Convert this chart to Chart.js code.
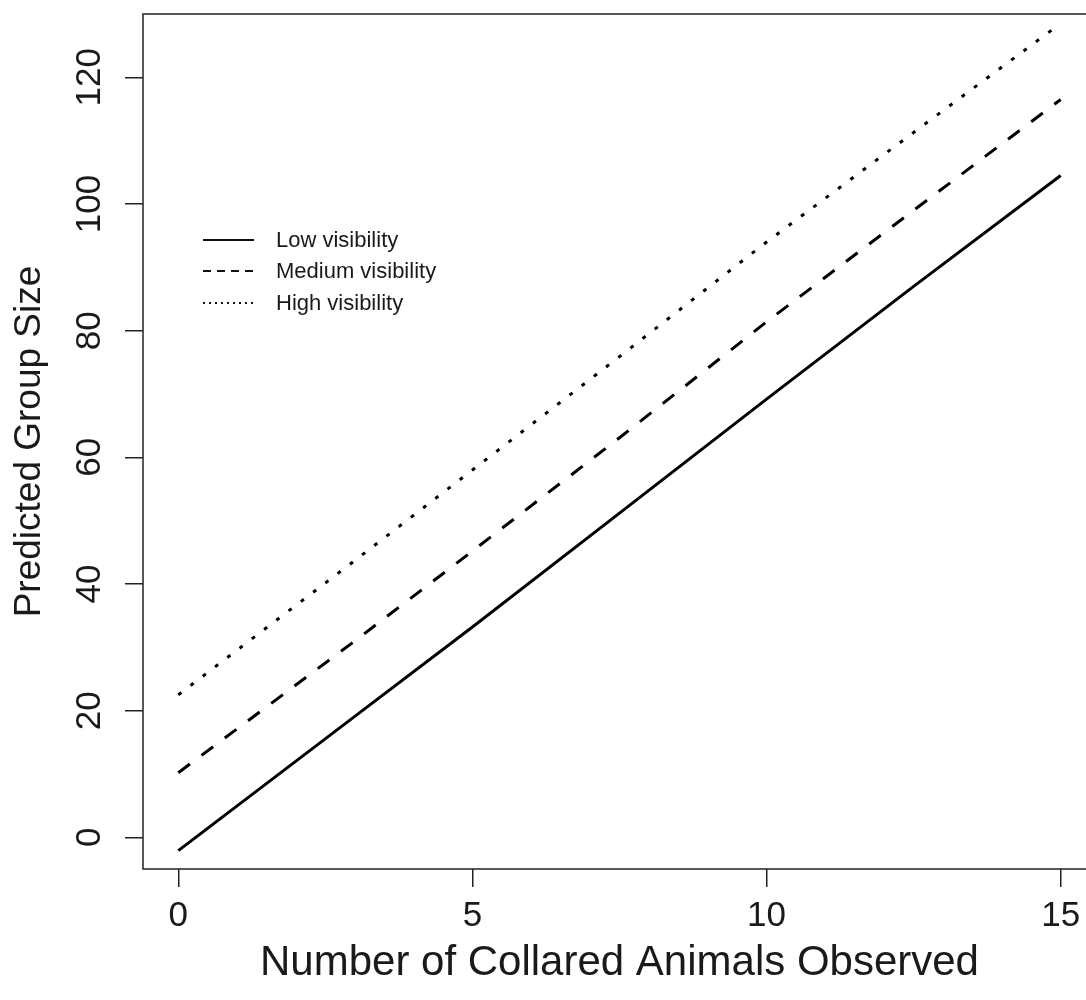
<!DOCTYPE html>
<html>
<head>
<meta charset="utf-8">
<script src="https://cdn.jsdelivr.net/npm/chart.js@4.4.1/dist/chart.umd.min.js"></script>
<style>
  html, body { margin: 0; padding: 0; background: #ffffff; overflow: hidden; }
  #wrap { width: 1100px; height: 1000px; position: relative; }
</style>
</head>
<body>
<div id="wrap"><canvas id="c" width="1100" height="1000"></canvas></div>
<script>
// ---- data ----
const xValues = [0, 3, 5, 7.5, 10, 12.5, 15];
const lowVisibility = [-2.1, 19.1, 33.2, 51.2, 69.2, 87.0, 104.5];
const mediumVisibility = [10.2, 31.0, 45.2, 63.1, 81.4, 99.0, 116.5];
const highVisibility = [22.5, 43.7, 58.0, 75.9, 94.0, 111.3, 128.5];
const seriesLabels = ['Low visibility', 'Medium visibility', 'High visibility'];
const xTickValues = [0, 5, 10, 15];
const yTickValues = [0, 20, 40, 60, 80, 100, 120];
const xTitle = 'Number of Collared Animals Observed';
const yTitle = 'Predicted Group Size';

const FONT = '"Liberation Sans", Arial, Helvetica, sans-serif';
const TEXT = '#1a1a1a';

function pts(ys) { return xValues.map((x, i) => ({ x: x, y: ys[i] })); }

const lineDashes = [[], [14.5, 14.5], [3.8, 11.6]];
const legendDashes = [[], [8, 6], [2, 4]];

const boxPlugin = {
  id: 'boxAndLabels',
  afterDraw(chart) {
    const ctx = chart.ctx;
    const a = chart.chartArea;
    ctx.save();
    // plot frame
    ctx.strokeStyle = '#222';
    ctx.lineWidth = 1.5;
    ctx.strokeRect(a.left, a.top, a.right - a.left, a.bottom - a.top);
    // rotated y tick labels (parallel to the axis)
    const ys = chart.scales.y;
    ctx.fillStyle = TEXT;
    ctx.font = '35px ' + FONT;
    ctx.textAlign = 'center';
    ctx.textBaseline = 'middle';
    ys.ticks.forEach(t => {
      const py = ys.getPixelForValue(t.value);
      ctx.save();
      ctx.translate(90, py);
      ctx.rotate(-Math.PI / 2);
      ctx.fillText(String(t.value), 0, 0);
      ctx.restore();
    });
    // legend
    const rows = [240, 271, 303];
    ctx.font = '22px ' + FONT;
    ctx.textAlign = 'left';
    ctx.textBaseline = 'middle';
    chart.data.datasets.forEach((ds, i) => {
      const y = rows[i];
      ctx.beginPath();
      ctx.setLineDash(legendDashes[i]);
      ctx.lineWidth = 2;
      ctx.strokeStyle = '#111';
      ctx.moveTo(203, y);
      ctx.lineTo(254, y);
      ctx.stroke();
      ctx.setLineDash([]);
      ctx.fillStyle = TEXT;
      ctx.fillText(ds.label, 276, y + 1);
    });
    ctx.restore();
  }
};

const datasets = [lowVisibility, mediumVisibility, highVisibility].map((ys, i) => ({
  label: seriesLabels[i],
  data: pts(ys),
  borderColor: '#000000',
  borderWidth: 3,
  borderDash: lineDashes[i],
  borderCapStyle: 'butt',
  pointRadius: 0,
  tension: 0,
  fill: false
}));

new Chart(document.getElementById('c'), {
  type: 'line',
  data: { datasets: datasets },
  options: {
    responsive: false,
    animation: false,
    layout: { padding: { top: 14, left: 0, right: 4, bottom: 0 } },
    plugins: { legend: { display: false }, tooltip: { enabled: false } },
    scales: {
      x: {
        type: 'linear',
        min: -0.6,
        max: 15.6,
        afterBuildTicks: s => { s.ticks = xTickValues.map(v => ({ value: v })); },
        afterFit: s => { s.height = 131; },
        border: { display: false },
        grid: { drawOnChartArea: false, drawTicks: true, tickLength: 18, color: '#222', lineWidth: 1.5 },
        ticks: { color: TEXT, font: { family: FONT, size: 35 }, padding: 8, maxRotation: 0, autoSkip: false },
        title: { display: true, text: xTitle, color: TEXT, font: { family: FONT, size: 42, lineHeight: 1.2 }, padding: { top: 0, bottom: 11 } }
      },
      y: {
        type: 'linear',
        min: -5,
        max: 130,
        afterBuildTicks: s => { s.ticks = yTickValues.map(v => ({ value: v })); },
        afterFit: s => { s.width = 143; },
        border: { display: false },
        grid: { drawOnChartArea: false, drawTicks: true, tickLength: 18, color: '#222', lineWidth: 1.5 },
        ticks: { display: false },
        title: { display: true, text: yTitle, color: TEXT, font: { family: FONT, size: 37, lineHeight: 1.2 }, padding: { top: 8, bottom: 0 } }
      }
    }
  },
  plugins: [boxPlugin]
});
</script>
</body>
</html>
